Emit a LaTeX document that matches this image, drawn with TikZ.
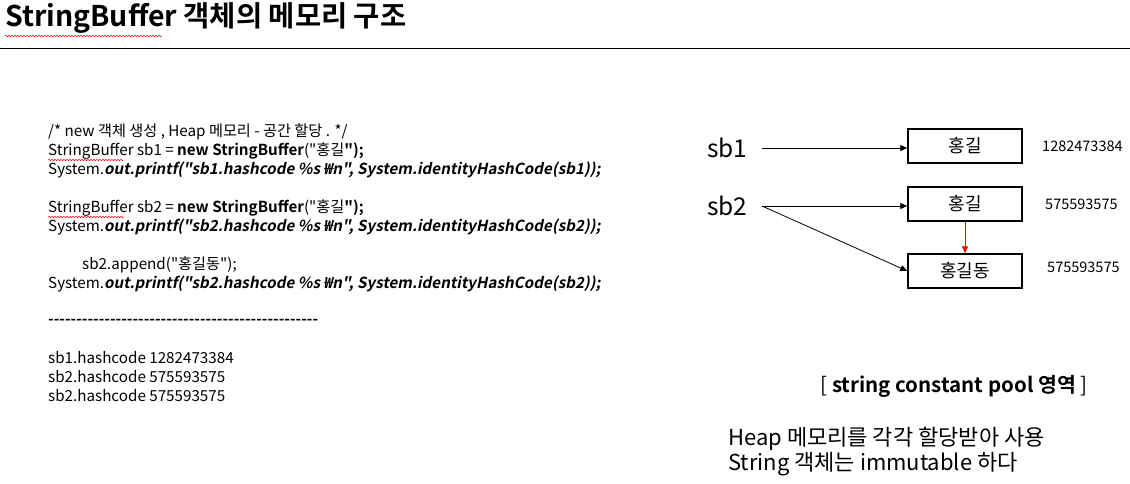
\documentclass[tikz,border=0pt]{standalone}
\usepackage{fontspec}
\setmainfont{Noto Sans CJK KR}[Ligatures=TeXOff,BoldFont={Noto Sans CJK KR Bold},ItalicFont={Noto Sans CJK KR},ItalicFeatures={FakeSlant=0.2},BoldItalicFont={Noto Sans CJK KR Bold},BoldItalicFeatures={FakeSlant=0.2}]
\usetikzlibrary{arrows.meta,decorations.pathmorphing}
\begin{document}
\begin{tikzpicture}[x=1pt,y=-1pt,
  code/.style={anchor=west,inner sep=0pt,font=\fontsize{15.2}{17}\selectfont},
  box/.style={draw,line width=1.4pt,minimum width=114pt,minimum height=34pt,inner sep=0pt,font=\fontsize{18}{20}\selectfont},
  hash/.style={anchor=west,inner sep=0pt,font=\fontsize{14.5}{16}\selectfont},
  var/.style={anchor=west,inner sep=0pt,font=\fontsize{24.5}{26}\selectfont},
  arr/.style={-{Triangle[length=7pt,width=6pt]},line width=0.8pt},
  squig/.style={red,line width=0.5pt,decorate,decoration={snake,amplitude=0.7pt,segment length=3pt}},
  note/.style={anchor=west,inner sep=0pt,font=\fontsize{22}{24}\selectfont}]
\useasboundingbox (0,0) rectangle (1130,483);
% title
\node[anchor=west,inner sep=0pt,font=\fontsize{28.5}{30}\bfseries\selectfont] (title) at (5,18) {StringBuffer 객체의 메모리 구조};
\draw[squig] (5,36) -- (162,36);
\draw[line width=0.8pt] (0,48) -- (1130,48);
% code
\node[code] (c1) at (48,132) {/* new 객체 생성 , Heap 메모리 - 공간 할당 . */};
\node[code] (c2) at (48,151) {StringBuffer sb1 = \textbf{new StringBuffer}("홍길\textbf{");}};
\node[code] (c3) at (48,170) {System.\textbf{\textit{out.printf("sb1.hashcode \%s ₩n", System.identityHashCode(sb1));}}};
\node[code] (c4) at (48,208) {StringBuffer sb2 = \textbf{new StringBuffer}("홍길\textbf{");}};
\node[code] (c5) at (48,227) {System.\textbf{\textit{out.printf("sb2.hashcode \%s ₩n", System.identityHashCode(sb2));}}};
\node[code] (c6) at (82,265) {sb2.append("홍길동");};
\node[code] (c7) at (48,284) {System.\textbf{\textit{out.printf("sb2.hashcode \%s ₩n", System.identityHashCode(sb2));}}};
\node[code] (c8) at (48,322) {\textbf{------------------------------------------------}};
\node[code] (c9) at (48,358) {sb1.hashcode 1282473384};
\node[code] (c10) at (48,377) {sb2.hashcode 575593575};
\node[code] (c11) at (48,396) {sb2.hashcode 575593575};
\draw[squig] (48,160) -- (124,160);
\draw[squig] (48,217) -- (124,217);
% diagram
\node[var] (sb1) at (707,148) {sb1};
\node[var] (sb2) at (707,206) {sb2};
\coordinate (s1) at (762,148);
\coordinate (s2) at (762,206);
\node[box] (b1) at (965,146) {홍길};
\node[box] (b2) at (965,204) {홍길};
\node[box] (b3) at (965,271) {홍길동};
\node[hash] (h1) at (1042,146) {1282473384};
\node[hash] (h2) at (1045,204) {575593575};
\node[hash] (h3) at (1047,267) {575593575};
\draw[arr] (s1) -- (b1.west |- s1);
\draw[arr] (s2) -- (b2.west |- s2);
\draw[arr] (s2) -- (b3.west);
\draw[arr,red,line width=0.6pt] (b2.south) -- (b3.north);
% notes
\node[anchor=center,inner sep=0pt,font=\fontsize{20.5}{22}\selectfont] (pool) at (954,386) {[ \textbf{string constant pool 영역} ]};
\node[note] (n1) at (728,439) {Heap 메모리를 각각 할당받아 사용};
\node[note] (n2) at (728,464) {String 객체는 immutable 하다};
\end{tikzpicture}
\end{document}
